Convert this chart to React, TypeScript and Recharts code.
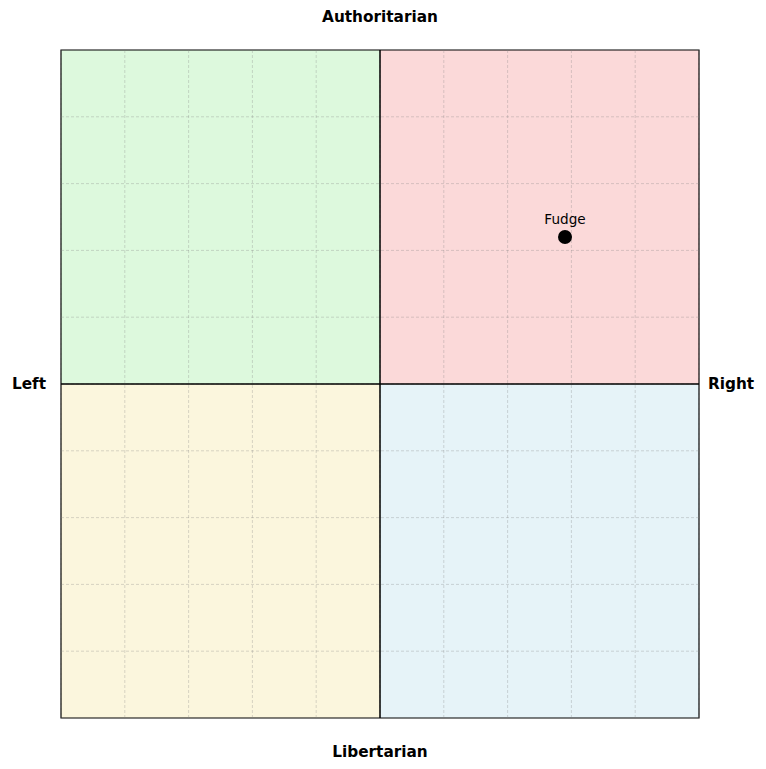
import {
  ScatterChart,
  Scatter,
  XAxis,
  YAxis,
  ReferenceArea,
  ReferenceLine,
} from "recharts";

const people = ["Fudge"];
const economic = [5.8];
const social = [4.4];

const gridTicks = [-10, -8, -6, -4, -2, 0, 2, 4, 6, 8, 10];

const quadrants = [
  { name: "AuthLeft", x1: -10, x2: 0, y1: 0, y2: 10, fill: "#ddf9dd" },
  { name: "AuthRight", x1: 0, x2: 10, y1: 0, y2: 10, fill: "#fbd9d9" },
  { name: "LibLeft", x1: -10, x2: 0, y1: -10, y2: 0, fill: "#fbf6dd" },
  { name: "LibRight", x1: 0, x2: 10, y1: -10, y2: 0, fill: "#e6f3f8" },
];

const data = people.map((name, i) => ({ name, x: economic[i], y: social[i] }));

const W = 766;
const H = 769;

const labelStyle: React.CSSProperties = {
  position: "absolute",
  fontFamily: "DejaVu Sans, sans-serif",
  fontWeight: "bold",
  fontSize: 15.3,
  lineHeight: "18px",
  whiteSpace: "nowrap",
};

function Dot(props: any) {
  const { cx, cy, payload } = props;
  return (
    <g>
      <circle cx={cx} cy={cy} r={7} fill="#000" />
      <text
        x={cx}
        y={cy - 13}
        textAnchor="middle"
        fontFamily="DejaVu Sans, sans-serif"
        fontSize={13.6}
        fill="#000"
      >
        {payload.name}
      </text>
    </g>
  );
}

export default function App() {
  return (
    <div style={{ position: "absolute", left: 0, top: 0, width: W, height: H, background: "#fff" }}>
      <ScatterChart
        width={W}
        height={H}
        margin={{ top: 50, left: 61, right: 67, bottom: 51 }}
      >
        <XAxis type="number" dataKey="x" domain={[-10, 10]} ticks={gridTicks} hide />
        <YAxis type="number" dataKey="y" domain={[-10, 10]} ticks={gridTicks} hide />
        {quadrants.map((q) => (
          <ReferenceArea
            key={q.name}
            x1={q.x1}
            x2={q.x2}
            y1={q.y1}
            y2={q.y2}
            fill={q.fill}
            fillOpacity={1}
            stroke="none"
          />
        ))}
        {gridTicks.map((t) => (
          <ReferenceLine
            key={`gx${t}`}
            x={t}
            stroke="#808080"
            strokeOpacity={0.5}
            strokeWidth={0.6}
            strokeDasharray="3 2"
          />
        ))}
        {gridTicks.map((t) => (
          <ReferenceLine
            key={`gy${t}`}
            y={t}
            stroke="#808080"
            strokeOpacity={0.5}
            strokeWidth={0.6}
            strokeDasharray="3 2"
          />
        ))}
        <ReferenceLine x={0} stroke="#000" strokeWidth={1.5} />
        <ReferenceLine y={0} stroke="#000" strokeWidth={1.5} />
        <ReferenceArea
          x1={-10}
          x2={10}
          y1={-10}
          y2={10}
          fill="none"
          stroke="#000"
          strokeWidth={1.2}
        />
        <Scatter data={data} isAnimationActive={false} shape={Dot} />
      </ScatterChart>
      <div style={{ ...labelStyle, left: 380, top: 8, transform: "translateX(-50%)" }}>
        Authoritarian
      </div>
      <div style={{ ...labelStyle, left: 380, top: 743, transform: "translateX(-50%)" }}>
        Libertarian
      </div>
      <div style={{ ...labelStyle, left: 29, top: 375, transform: "translateX(-50%)" }}>
        Left
      </div>
      <div style={{ ...labelStyle, left: 731, top: 375, transform: "translateX(-50%)" }}>
        Right
      </div>
    </div>
  );
}
